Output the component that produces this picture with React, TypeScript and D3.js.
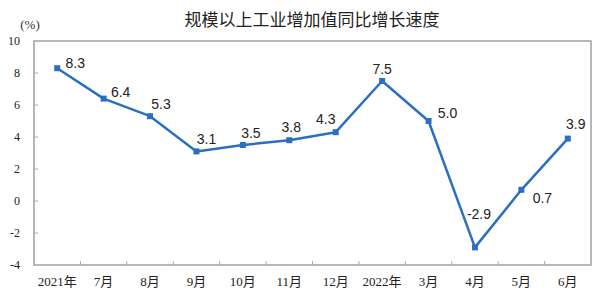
import React from "react";
import * as d3 from "d3";

const categories = ["2021年", "7月", "8月", "9月", "10月", "11月", "12月", "2022年", "3月", "4月", "5月", "6月"];
const values = [8.3, 6.4, 5.3, 3.1, 3.5, 3.8, 4.3, 7.5, 5.0, -2.9, 0.7, 3.9];
const labels = ["8.3", "6.4", "5.3", "3.1", "3.5", "3.8", "4.3", "7.5", "5.0", "-2.9", "0.7", "3.9"];
// label offsets relative to point (dx, dy) of text center
const labelOffsets: [number, number][] = [
  [18, -5], [17, -7], [11, -12], [10, -12], [8, -12], [2, -13],
  [-10, -13], [0, -12], [19, -8], [4, -33], [21, 8], [8, -15],
];
const yTicks = [10, 8, 6, 4, 2, 0, -2, -4];
const title = "规模以上工业增加值同比增长速度";

const W = 606, H = 291;
const left = 34, right = 591, top = 41, bottom = 265;

export default function App() {
  const x = d3.scaleBand<string>().domain(categories).range([left, right]);
  const y = d3.scaleLinear().domain([-4, 10]).range([bottom, top]);
  const cx = (c: string) => (x(c) as number) + x.bandwidth() / 2;
  const line = d3.line<number>().x((_, i) => cx(categories[i])).y((v) => y(v));
  const boundaries = categories.slice(1).map((c) => x(c) as number);
  const blue = "#2c6fc2";
  const serif = "'Liberation Serif', 'Noto Sans CJK SC', serif";
  return (
    <svg width={W} height={H} style={{ position: "absolute", left: 0, top: 0 }}>
      <rect width={W} height={H} fill="#fff" />
      <text x={312} y={26} textAnchor="middle" fontSize={17} fontFamily="'Noto Sans CJK SC', sans-serif" fill="#222">{title}</text>
      <text x={30} y={29} textAnchor="middle" fontSize={13} fontFamily={serif} fill="#333">(%)</text>
      {yTicks.map((t) => (
        <g key={t}>
          <text x={20} y={y(t)} dy="0.35em" textAnchor="end" fontSize={12} fontFamily={serif} fill="#222">{t}</text>
          {t !== 10 && t !== -4 && (
            <line x1={left} x2={left + 4} y1={y(t)} y2={y(t)} stroke="#aaa" strokeWidth={1} />
          )}
        </g>
      ))}
      {boundaries.map((b, i) => (
        <line key={i} x1={b} x2={b} y1={bottom} y2={bottom - 4} stroke="#aaa" strokeWidth={1} />
      ))}
      <rect x={left} y={top} width={right - left} height={bottom - top} fill="none" stroke="#a0a0a0" strokeWidth={1.5} />
      {categories.map((c) => (
        <text key={c} x={cx(c)} y={286} textAnchor="middle" fontSize={13} fontFamily={serif} fill="#222">{c}</text>
      ))}
      <path d={line(values) || ""} fill="none" stroke={blue} strokeWidth={2.5} strokeLinejoin="round" />
      {values.map((v, i) => (
        <rect key={i} x={cx(categories[i]) - 3} y={y(v) - 3} width={6} height={6} fill={blue} />
      ))}
      {values.map((v, i) => (
        <text key={"l" + i} x={cx(categories[i]) + labelOffsets[i][0]} y={y(v) + labelOffsets[i][1]} dy="0.35em"
          textAnchor="middle" fontSize={14} fontFamily="'Liberation Sans', Arial, sans-serif" fill="#222">{labels[i]}</text>
      ))}
    </svg>
  );
}
